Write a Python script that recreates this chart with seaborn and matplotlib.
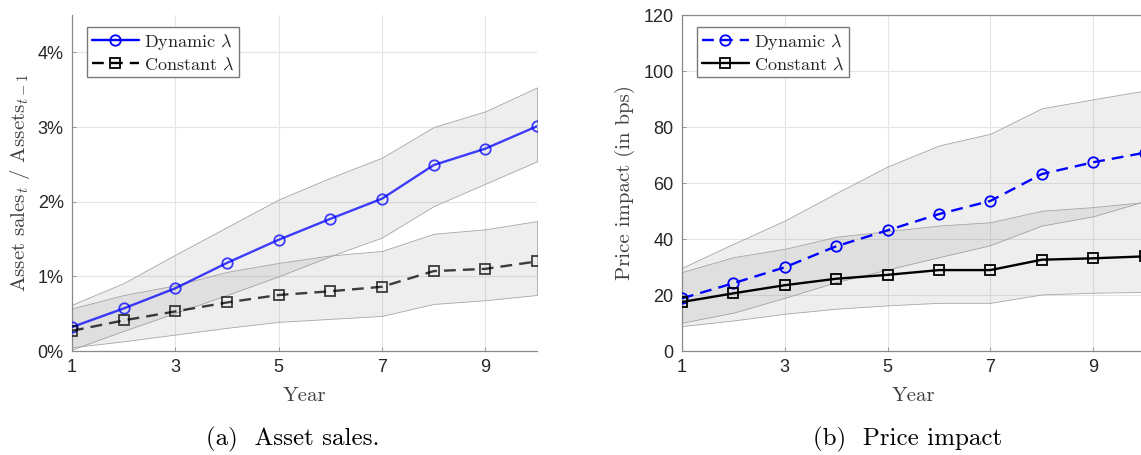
import matplotlib
matplotlib.use("Agg")
import matplotlib.pyplot as plt
import seaborn as sns
import numpy as np
from matplotlib.ticker import FuncFormatter

# Data
years = [1, 2, 3, 4, 5, 6, 7, 8, 9, 10]

# (a) asset sales, in %
sales_dyn = [0.32, 0.57, 0.84, 1.18, 1.49, 1.77, 2.04, 2.49, 2.71, 3.01]
sales_dyn_hi = [0.62, 0.91, 1.29, 1.66, 2.03, 2.32, 2.59, 3.00, 3.21, 3.53]
sales_dyn_lo = [0.02, 0.27, 0.51, 0.75, 1.00, 1.27, 1.52, 1.94, 2.24, 2.54]
sales_const = [0.27, 0.41, 0.53, 0.65, 0.75, 0.80, 0.86, 1.07, 1.10, 1.20]
sales_const_hi = [0.57, 0.75, 0.88, 1.06, 1.18, 1.28, 1.34, 1.57, 1.63, 1.74]
sales_const_lo = [0.05, 0.13, 0.22, 0.31, 0.39, 0.43, 0.47, 0.63, 0.68, 0.75]

# (b) price impact, in bps
impact_dyn = [18.8, 24.2, 29.9, 37.4, 43.1, 48.9, 53.6, 63.2, 67.4, 70.8]
impact_dyn_hi = [29.7, 38.3, 46.6, 56.4, 65.9, 73.4, 77.6, 86.7, 89.9, 93.0]
impact_dyn_lo = [10.1, 13.7, 19.0, 24.6, 29.1, 33.5, 37.8, 44.8, 48.1, 53.5]
impact_const = [17.5, 20.6, 23.5, 25.8, 27.2, 28.9, 28.9, 32.6, 33.1, 33.8]
impact_const_hi = [28.2, 33.5, 36.5, 40.8, 42.8, 44.8, 46.0, 50.1, 51.4, 53.2]
impact_const_lo = [8.9, 10.9, 13.3, 15.1, 16.3, 17.2, 17.2, 20.2, 20.8, 21.1]

x_ticks = [1, 3, 5, 7, 9]
sales_ticks = [0, 1, 2, 3, 4]
impact_ticks = [0, 20, 40, 60, 80, 100, 120]

sns.set_theme(style="whitegrid")
plt.rcParams["font.family"] = ["Liberation Sans", "DejaVu Sans"]
plt.rcParams["mathtext.fontset"] = "cm"
plt.rcParams["axes.unicode_minus"] = False

SERIF = "cmr10"
BAND_FACE = (0.5, 0.5, 0.5, 0.13)
BAND_EDGE = "#a6a6a6"
AX_COLOR = "#8a8a8a"


def band(ax, lo, hi):
    ax.fill_between(years, lo, hi, facecolor=BAND_FACE, edgecolor=BAND_EDGE,
                    linewidth=0.6, zorder=1)


def style_axes(ax, box):
    ax.set_xlim(1, 10)
    ax.set_xticks(x_ticks)
    ax.grid(True, color="#e4e4e4", linewidth=0.8)
    ax.set_axisbelow(True)
    ax.tick_params(axis="both", direction="in", length=3, width=0.6,
                   colors=AX_COLOR, labelcolor="#262626", labelsize=13,
                   bottom=True, left=True, pad=6)
    for side in ["left", "bottom"]:
        ax.spines[side].set_color(AX_COLOR)
        ax.spines[side].set_linewidth(0.9)
    for side in ["top", "right"]:
        ax.spines[side].set_visible(box)
        ax.spines[side].set_color(AX_COLOR)
        ax.spines[side].set_linewidth(0.9)
    ax.set_xlabel("Year", fontfamily=SERIF, fontsize=15, color="#404040", labelpad=8)


def add_line(ax, y, color, ls, marker, ms, label, alpha=1.0):
    sns.lineplot(x=years, y=y, ax=ax, color=color, linestyle=ls, linewidth=1.7,
                 marker=marker, markersize=ms, markerfacecolor="none",
                 markeredgecolor=color, markeredgewidth=1.3, alpha=alpha,
                 label=label, zorder=3)


def add_legend(ax):
    leg = ax.legend(loc="upper left", bbox_to_anchor=(0.025, 0.975),
                    prop={"family": SERIF, "size": 13}, frameon=True, fancybox=False,
                    edgecolor="#7a7a7a", framealpha=1, handlelength=2.6,
                    borderpad=0.25, labelspacing=0.25, handletextpad=0.3,
                    borderaxespad=0.2)
    leg.get_frame().set_linewidth(1.0)
    for h in leg.legend_handles:
        h.set_alpha(1.0)
    for t in leg.get_texts():
        t.set_color("#262626")


fig = plt.figure(figsize=(11.41, 4.55), dpi=100)
ax1 = fig.add_axes([72 / 1141, 104 / 455, 465 / 1141, 336 / 455])
ax2 = fig.add_axes([682 / 1141, 104 / 455, 462.6 / 1141, 336 / 455])

# (a) Asset sales
band(ax1, sales_dyn_lo, sales_dyn_hi)
band(ax1, sales_const_lo, sales_const_hi)
add_line(ax1, sales_dyn, "#0000ff", "-", "o", 7.5, r"Dynamic $\lambda$", alpha=0.75)
add_line(ax1, sales_const, "black", (0, (5, 3)), "s", 6.5, r"Constant $\lambda$", alpha=0.75)
style_axes(ax1, box=False)
ax1.set_ylim(0, 4.5)
ax1.set_yticks(sales_ticks)
ax1.yaxis.set_major_formatter(FuncFormatter(lambda v, p: f"{v:.0f}%"))
ax1.set_ylabel(r"Asset sales$_t$ / Assets$_{t-1}$", fontfamily=SERIF, fontsize=15,
               color="#404040", labelpad=4)
add_legend(ax1)

# (b) Price impact
band(ax2, impact_dyn_lo, impact_dyn_hi)
band(ax2, impact_const_lo, impact_const_hi)
add_line(ax2, impact_dyn, "#0000ff", (0, (5, 3)), "o", 7.5, r"Dynamic $\lambda$")
add_line(ax2, impact_const, "black", "-", "s", 6.5, r"Constant $\lambda$")
style_axes(ax2, box=True)
ax2.set_ylim(0, 120)
ax2.set_yticks(impact_ticks)
ax2.set_ylabel("Price impact (in bps)", fontfamily=SERIF, fontsize=15,
               color="#404040", labelpad=6)
add_legend(ax2)

fig.text(293 / 1141, 16 / 455, "(a)  Asset sales.", fontfamily=SERIF, fontsize=18,
         ha="center", va="center", color="black")
fig.text(908 / 1141, 16 / 455, "(b)  Price impact", fontfamily=SERIF, fontsize=18,
         ha="center", va="center", color="black")

fig.savefig("out.png", dpi=100)
